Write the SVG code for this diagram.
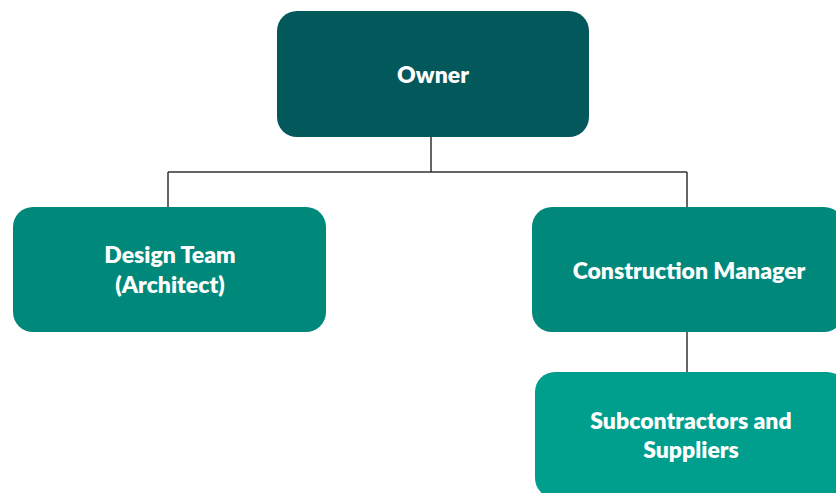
<svg xmlns="http://www.w3.org/2000/svg" width="836" height="493" viewBox="0 0 836 493">
<style>
.lbl{font-family:Lato,"Noto Sans","Liberation Sans",sans-serif;font-weight:800;font-size:23px;fill:#fff;text-anchor:middle}
.conn{stroke:#333;stroke-width:1.5;fill:none}
</style>
<rect width="836" height="493" fill="#fff"/>
<g id="connectors">
<path class="conn" d="M431 137V172M168 172H687M168 172V207M687 172V207M687 332V372"/>
</g>
<g id="owner">
<rect x="277" y="11" width="312" height="126" rx="20" fill="#02585A"/>
<text class="lbl" x="433" y="83">Owner</text>
</g>
<g id="design">
<rect x="13" y="207" width="313" height="125" rx="20" fill="#00887A"/>
<text class="lbl" x="170" y="263">Design Team</text>
<text class="lbl" x="170" y="293">(Architect)</text>
</g>
<g id="cm">
<rect x="532" y="207" width="312" height="125" rx="20" fill="#00887A"/>
<text class="lbl" x="689" y="279">Construction Manager</text>
</g>
<g id="subs">
<rect x="535" y="372" width="312" height="126" rx="20" fill="#009E8C"/>
<text class="lbl" x="691" y="429">Subcontractors and</text>
<text class="lbl" x="691" y="458">Suppliers</text>
</g>
</svg>
